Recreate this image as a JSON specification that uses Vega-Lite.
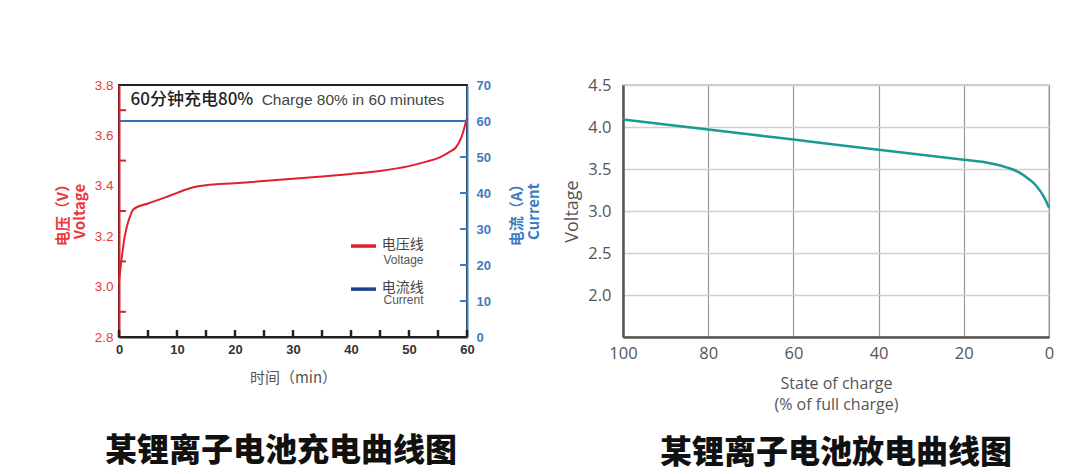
{
  "$schema": "https://vega.github.io/schema/vega-lite/v6.json",
  "background": "white",
  "padding": {"left": 54, "top": 76, "right": 0, "bottom": 0},
  "bounds": "flush",
  "spacing": 156,
  "config": {"font": "Liberation Sans", "axis": {"grid": false}},
  "hconcat": [
    {
      "width": 348,
      "height": 252,
      "view": {"stroke": "#222", "strokeWidth": 2},
      "title": {"text": "某锂离子电池充电曲线图", "orient": "bottom", "anchor": "middle", "font": "Noto Sans CJK SC", "fontSize": 32, "fontWeight": 900, "color": "#111", "offset": 51, "dx": -12},
      "layer": [
        {
          "layer": [
            {
              "data": {"values": [
                {"t": 0, "v": 3.02}, {"t": 0.5, "v": 3.12}, {"t": 1, "v": 3.2}, {"t": 1.5, "v": 3.25},
                {"t": 2, "v": 3.285}, {"t": 2.5, "v": 3.307}, {"t": 5, "v": 3.33}, {"t": 8, "v": 3.354},
                {"t": 10, "v": 3.372}, {"t": 13, "v": 3.395}, {"t": 15, "v": 3.402}, {"t": 20, "v": 3.41},
                {"t": 30, "v": 3.428}, {"t": 40, "v": 3.447}, {"t": 45, "v": 3.459}, {"t": 50, "v": 3.478},
                {"t": 53, "v": 3.496}, {"t": 55, "v": 3.51}, {"t": 57, "v": 3.535}, {"t": 58, "v": 3.55},
                {"t": 59, "v": 3.59}, {"t": 60, "v": 3.67}
              ]},
              "mark": {"type": "line", "color": "#e0202a", "strokeWidth": 2, "interpolate": "monotone"},
              "encoding": {
                "x": {"field": "t", "type": "quantitative", "scale": {"domain": [0, 60], "nice": false},
                  "axis": {"values": [0, 10, 20, 30, 40, 50, 60], "labelFlush": false,
                    "ticks": false, "domainColor": "#222", "domainWidth": 2,
                    "labelPadding": 6, "labelColor": "#333", "labelFontSize": 13, "labelFontWeight": "bold",
                    "title": "时间（min）", "titleFont": "Noto Sans CJK SC", "titleFontSize": 15, "titleFontWeight": "normal", "titleColor": "#555", "titlePadding": 14}},
                "y": {"field": "v", "type": "quantitative", "scale": {"domain": [2.8, 3.8], "nice": false, "zero": false},
                  "axis": {"orient": "left", "values": [2.8, 3.0, 3.2, 3.4, 3.6, 3.8], "format": ".1f",
                    "ticks": false, "domainColor": "#e0202a", "domainWidth": 2,
                    "labelPadding": 6, "labelColor": "#e8383d", "labelFontSize": 13.5,
                    "title": ["电压（V）", "Voltage"], "titleFont": "Noto Sans CJK SC", "titleFontSize": 15, "titleFontWeight": "bold", "titleColor": "#e8383d", "titlePadding": 7}}
              }
            },
            {
              "data": {"values": [{"t": 0}, {"t": 5}, {"t": 10}, {"t": 15}, {"t": 20}, {"t": 25}, {"t": 30}, {"t": 35}, {"t": 40}, {"t": 45}, {"t": 50}, {"t": 55}, {"t": 60}]},
              "mark": {"type": "tick", "orient": "vertical", "size": 7, "thickness": 2.5, "color": "#222", "yOffset": -3.5, "opacity": 1},
              "encoding": {
                "x": {"field": "t", "type": "quantitative"},
                "y": {"datum": 2.8, "type": "quantitative"}
              }
            },
            {
              "data": {"values": [{"v": 2.9}, {"v": 3.1}, {"v": 3.3}, {"v": 3.5}, {"v": 3.7}]},
              "mark": {"type": "tick", "orient": "horizontal", "size": 7, "thickness": 2, "color": "#e0202a", "xOffset": 3.5, "opacity": 1},
              "encoding": {
                "x": {"datum": 0, "type": "quantitative"},
                "y": {"field": "v", "type": "quantitative"}
              }
            },
            {
              "data": {"values": [
                {"t": 40.0, "t2": 44.3, "v": 3.161, "series": "电压线"},
                {"t": 40.0, "t2": 44.3, "v": 2.99, "series": "电流线"}
              ]},
              "mark": {"type": "rule", "strokeWidth": 3.5},
              "encoding": {
                "x": {"field": "t", "type": "quantitative"},
                "x2": {"field": "t2"},
                "y": {"field": "v", "type": "quantitative"},
                "color": {"field": "series", "type": "nominal", "scale": {"domain": ["电压线", "电流线"], "range": ["#e0202a", "#1c3f8f"]}, "legend": null}
              }
            },
            {
              "data": {"values": [
                {"t": 45.3, "v": 3.166, "label": "电压线"},
                {"t": 45.3, "v": 2.993, "label": "电流线"}
              ]},
              "mark": {"type": "text", "align": "left", "baseline": "middle", "font": "Noto Sans CJK SC", "fontSize": 14, "color": "#444"},
              "encoding": {
                "x": {"field": "t", "type": "quantitative"},
                "y": {"field": "v", "type": "quantitative"},
                "text": {"field": "label"}
              }
            },
            {
              "data": {"values": [
                {"t": 45.6, "v": 3.105, "label": "Voltage"},
                {"t": 45.6, "v": 2.946, "label": "Current"}
              ]},
              "mark": {"type": "text", "align": "left", "baseline": "middle", "fontSize": 12, "color": "#555"},
              "encoding": {
                "x": {"field": "t", "type": "quantitative"},
                "y": {"field": "v", "type": "quantitative"},
                "text": {"field": "label"}
              }
            },
            {
              "data": {"values": [{"t": 2.0, "v": 3.74, "label": "60分钟充电80%"}]},
              "mark": {"type": "text", "align": "left", "baseline": "middle", "font": "Noto Sans CJK SC", "fontSize": 17, "fontWeight": 500, "color": "#222"},
              "encoding": {
                "x": {"field": "t", "type": "quantitative"},
                "y": {"field": "v", "type": "quantitative"},
                "text": {"field": "label"}
              }
            },
            {
              "data": {"values": [{"t": 24.6, "v": 3.74, "label": "Charge 80% in 60 minutes"}]},
              "mark": {"type": "text", "align": "left", "baseline": "middle", "fontSize": 15.5, "color": "#444"},
              "encoding": {
                "x": {"field": "t", "type": "quantitative"},
                "y": {"field": "v", "type": "quantitative"},
                "text": {"field": "label"}
              }
            }
          ]
        },
        {
          "layer": [
            {
              "data": {"values": [{"t": 0, "a": 60}, {"t": 60, "a": 60}]},
              "mark": {"type": "line", "color": "#2f72b8", "strokeWidth": 2},
              "encoding": {
                "x": {"field": "t", "type": "quantitative"},
                "y": {"field": "a", "type": "quantitative", "scale": {"domain": [0, 70], "nice": false},
                  "axis": {"orient": "right", "values": [0, 10, 20, 30, 40, 50, 60, 70],
                    "ticks": false, "domainColor": "#3c7cc0", "domainWidth": 2,
                    "labelPadding": 9, "labelColor": "#3c7cc0", "labelFontSize": 13, "labelFontWeight": "bold",
                    "title": ["电流（A）", "Current"], "titleAngle": -90, "titleFont": "Noto Sans CJK SC", "titleFontSize": 15, "titleFontWeight": "bold", "titleColor": "#3c7cc0", "titlePadding": 17}}
              }
            },
            {
              "data": {"values": [{"a": 10}, {"a": 20}, {"a": 30}, {"a": 40}, {"a": 50}]},
              "mark": {"type": "tick", "orient": "horizontal", "size": 7, "thickness": 2, "color": "#3c7cc0", "xOffset": -3.5, "opacity": 1},
              "encoding": {
                "x": {"datum": 60, "type": "quantitative"},
                "y": {"field": "a", "type": "quantitative",
                  "axis": {"orient": "right", "values": [0, 10, 20, 30, 40, 50, 60, 70],
                    "ticks": false, "domainColor": "#3c7cc0", "domainWidth": 2,
                    "labelPadding": 9, "labelColor": "#3c7cc0", "labelFontSize": 13, "labelFontWeight": "bold",
                    "title": ["电流（A）", "Current"], "titleAngle": -90, "titleFont": "Noto Sans CJK SC", "titleFontSize": 15, "titleFontWeight": "bold", "titleColor": "#3c7cc0", "titlePadding": 17}}
              }
            }
          ]
        }
      ],
      "resolve": {"scale": {"y": "independent"}}
    },
    {
      "width": 426,
      "height": 252,
      "view": {"stroke": "#bbb", "strokeWidth": 1.5},
      "title": {"text": "某锂离子电池放电曲线图", "orient": "bottom", "anchor": "middle", "font": "Noto Sans CJK SC", "fontSize": 32, "fontWeight": 900, "color": "#111", "offset": 25},
      "data": {"values": [
        {"s": 100, "v": 4.09}, {"s": 90, "v": 4.03}, {"s": 80, "v": 3.97}, {"s": 70, "v": 3.91},
        {"s": 60, "v": 3.85}, {"s": 50, "v": 3.79}, {"s": 40, "v": 3.73}, {"s": 30, "v": 3.67},
        {"s": 20, "v": 3.61}, {"s": 15, "v": 3.58}, {"s": 10, "v": 3.52}, {"s": 7, "v": 3.46},
        {"s": 5, "v": 3.39}, {"s": 3, "v": 3.3}, {"s": 1, "v": 3.15}, {"s": 0, "v": 3.04}
      ]},
      "mark": {"type": "line", "color": "#1a9a94", "strokeWidth": 2.5, "interpolate": "monotone"},
      "encoding": {
        "x": {"field": "s", "type": "quantitative", "scale": {"domain": [0, 100], "reverse": true, "nice": false},
          "axis": {"values": [0, 20, 40, 60, 80, 100], "labelFlush": false, "grid": true, "gridColor": "#999", "gridWidth": 1.2,
            "ticks": false, "domainColor": "#555", "domainWidth": 2.5, "labelPadding": 8,
            "labelFont": "Open Sans", "labelFontSize": 16.5, "labelColor": "#555",
            "title": ["State of charge", "(% of full charge)"], "titleFont": "Open Sans", "titleFontSize": 16, "titleLineHeight": 21, "titleFontWeight": "normal", "titleColor": "#555", "titlePadding": 14}},
        "y": {"field": "v", "type": "quantitative", "scale": {"domain": [1.5, 4.5], "nice": false, "zero": false},
          "axis": {"values": [2.0, 2.5, 3.0, 3.5, 4.0, 4.5], "format": ".1f", "grid": true, "gridColor": "#d0d0d0", "gridWidth": 1.5,
            "ticks": false, "domainColor": "#555", "domainWidth": 2.5, "labelPadding": 12,
            "labelFont": "Open Sans", "labelFontSize": 16.5, "labelColor": "#555",
            "title": "Voltage", "titleFont": "Open Sans", "titleFontSize": 18, "titleFontWeight": "normal", "titleColor": "#555", "titlePadding": 6}}
      }
    }
  ]
}
